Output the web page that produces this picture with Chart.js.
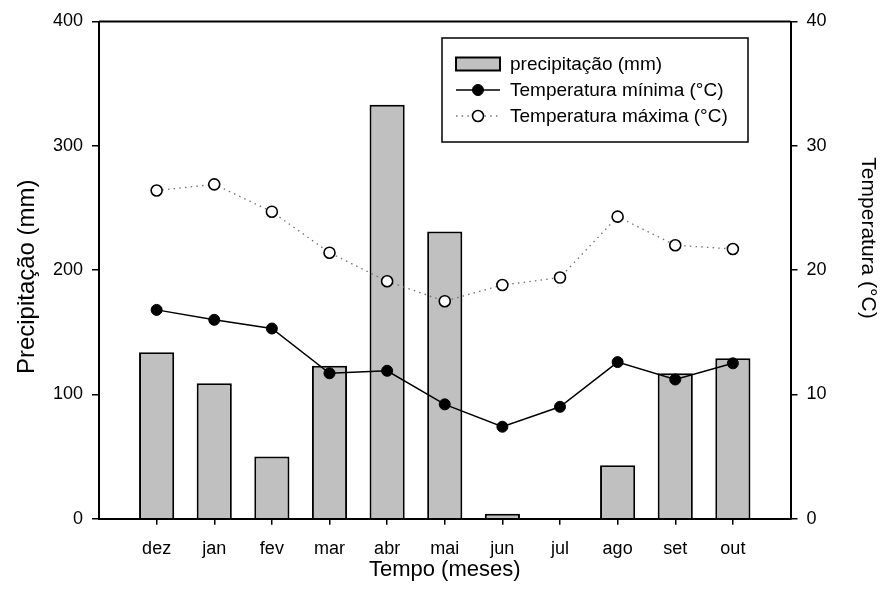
<!DOCTYPE html>
<html lang="pt">
<head>
<meta charset="utf-8">
<title>Precipitação e temperatura</title>
<script src="https://cdn.jsdelivr.net/npm/chart.js@4.4.1/dist/chart.umd.min.js"></script>
<style>
  html, body { margin: 0; padding: 0; background: #fff; }
  #wrap { width: 880px; height: 603px; }
</style>
</head>
<body>
<div id="wrap"><canvas id="grafico" width="880" height="603"></canvas></div>
<script>
// dados
const meses = ['dez', 'jan', 'fev', 'mar', 'abr', 'mai', 'jun', 'jul', 'ago', 'set', 'out'];
const precipitacao = [134, 109, 50, 123, 333, 231, 4, 0, 43, 117, 129];
const tempMinima = [16.8, 16.0, 15.3, 11.7, 11.9, 9.2, 7.4, 9.0, 12.6, 11.2, 12.5];
const tempMaxima = [26.4, 26.9, 24.7, 21.4, 19.1, 17.5, 18.8, 19.4, 24.3, 22.0, 21.7];
const ticksPrecip = [0, 100, 200, 300, 400];
const ticksTemp = [0, 10, 20, 30, 40];

// uma posicao vazia em cada ponta do eixo x
const rotulos = ['', ...meses, ''];
const comFolga = arr => [null, ...arr, null];

Chart.defaults.font.family = '"Liberation Sans", Arial, sans-serif';
Chart.defaults.color = '#000';

// linha de cima da moldura + legenda dentro do grafico
const molduraELegenda = {
    id: 'molduraELegenda',
    afterDraw(chart) {
        const { ctx, chartArea: a } = chart;
        ctx.save();
        ctx.strokeStyle = '#000';
        ctx.lineWidth = 2;
        ctx.beginPath();
        ctx.moveTo(a.left, a.top);
        ctx.lineTo(a.right, a.top);
        ctx.stroke();

        const bx = a.left + 343, by = a.top + 16.5, bw = 306, bh = 104;
        ctx.fillStyle = '#fff';
        ctx.fillRect(bx, by, bw, bh);
        ctx.lineWidth = 1.5;
        ctx.strokeRect(bx, by, bw, bh);

        const sx = bx + 14, sw = 44, tx = bx + 68;
        ctx.font = '19px "Liberation Sans", Arial, sans-serif';
        ctx.textBaseline = 'middle';
        chart.data.datasets.forEach((d, i) => {
            const cy = by + 26 + i * 26;
            if (d.type === 'bar') {
                ctx.fillStyle = d.backgroundColor;
                ctx.fillRect(sx, cy - 6.5, sw, 13);
                ctx.strokeStyle = d.borderColor;
                ctx.lineWidth = 2;
                ctx.strokeRect(sx, cy - 6.5, sw, 13);
            } else {
                ctx.setLineDash(d.borderDash || []);
                ctx.strokeStyle = d.borderColor;
                ctx.lineWidth = d.borderWidth;
                ctx.beginPath();
                ctx.moveTo(sx, cy);
                ctx.lineTo(sx + sw, cy);
                ctx.stroke();
                ctx.setLineDash([]);
                ctx.beginPath();
                ctx.arc(sx + sw / 2, cy, d.pointRadius, 0, Math.PI * 2);
                ctx.fillStyle = d.pointBackgroundColor;
                ctx.fill();
                ctx.strokeStyle = d.pointBorderColor;
                ctx.lineWidth = d.pointBorderWidth;
                ctx.stroke();
            }
            ctx.fillStyle = '#000';
            ctx.fillText(d.label, tx, cy + 1);
        });
        ctx.restore();
    }
};

const gradeEixo = {
    drawOnChartArea: false,
    tickLength: 7,
    color: '#000',
    lineWidth: 1.5
};

new Chart(document.getElementById('grafico'), {
    data: {
        labels: rotulos,
        datasets: [
            {
                type: 'bar',
                label: 'precipitação (mm)',
                data: comFolga(precipitacao),
                backgroundColor: '#c0c0c0',
                borderColor: '#000',
                borderWidth: 2,
                barPercentage: 0.61,
                categoryPercentage: 1,
                yAxisID: 'y',
                order: 3
            },
            {
                type: 'line',
                label: 'Temperatura mínima (°C)',
                data: comFolga(tempMinima),
                borderColor: '#000',
                borderWidth: 1.5,
                pointRadius: 5.5,
                pointBackgroundColor: '#000',
                pointBorderColor: '#000',
                pointBorderWidth: 1,
                tension: 0,
                yAxisID: 'y1',
                order: 2
            },
            {
                type: 'line',
                label: 'Temperatura máxima (°C)',
                data: comFolga(tempMaxima),
                borderColor: '#707070',
                borderWidth: 1.3,
                borderDash: [1.5, 4.2],
                pointRadius: 5.5,
                pointBackgroundColor: '#fff',
                pointBorderColor: '#000',
                pointBorderWidth: 1.6,
                tension: 0,
                yAxisID: 'y1',
                order: 1
            }
        ]
    },
    options: {
        responsive: false,
        animation: false,
        layout: { padding: { top: 21.5, left: 0, right: 0, bottom: 0 } },
        plugins: {
            legend: { display: false },
            tooltip: { enabled: false }
        },
        scales: {
            x: {
                type: 'category',
                offset: false,
                afterFit: s => { s.height = 84.3; },
                grid: {
                    offset: false,
                    drawOnChartArea: false,
                    tickLength: 6,
                    lineWidth: 1.5,
                    // sem marca nas duas posicoes vazias
                    color: c => (c.index === 0 || c.index === rotulos.length - 1) ? 'rgba(0,0,0,0)' : '#000'
                },
                border: { color: '#000', width: 2 },
                ticks: { autoSkip: false, maxRotation: 0, padding: 14, font: { size: 18 } },
                title: { display: true, text: 'Tempo (meses)', font: { size: 22 }, padding: { top: 0, bottom: 20 } }
            },
            y: {
                position: 'left',
                min: ticksPrecip[0],
                max: ticksPrecip[ticksPrecip.length - 1],
                afterFit: s => { s.width = 99; },
                grid: gradeEixo,
                border: { color: '#000', width: 2 },
                ticks: { stepSize: ticksPrecip[1] - ticksPrecip[0], padding: 9, font: { size: 18 } },
                title: { display: true, text: 'Precipitação (mm)' + '  ', font: { size: 24 }, padding: { top: 13, bottom: 0 } }
            },
            y1: {
                position: 'right',
                min: ticksTemp[0],
                max: ticksTemp[ticksTemp.length - 1],
                afterFit: s => { s.width = 89.5; },
                grid: gradeEixo,
                border: { color: '#000', width: 2 },
                ticks: { stepSize: ticksTemp[1] - ticksTemp[0], padding: 9, font: { size: 18 } },
                title: { display: true, text: 'Temperatura (°C)' + ' '.repeat(11), font: { size: 21 }, padding: { top: 0, bottom: 0 } }
            }
        }
    },
    plugins: [molduraELegenda]
});
</script>
</body>
</html>
